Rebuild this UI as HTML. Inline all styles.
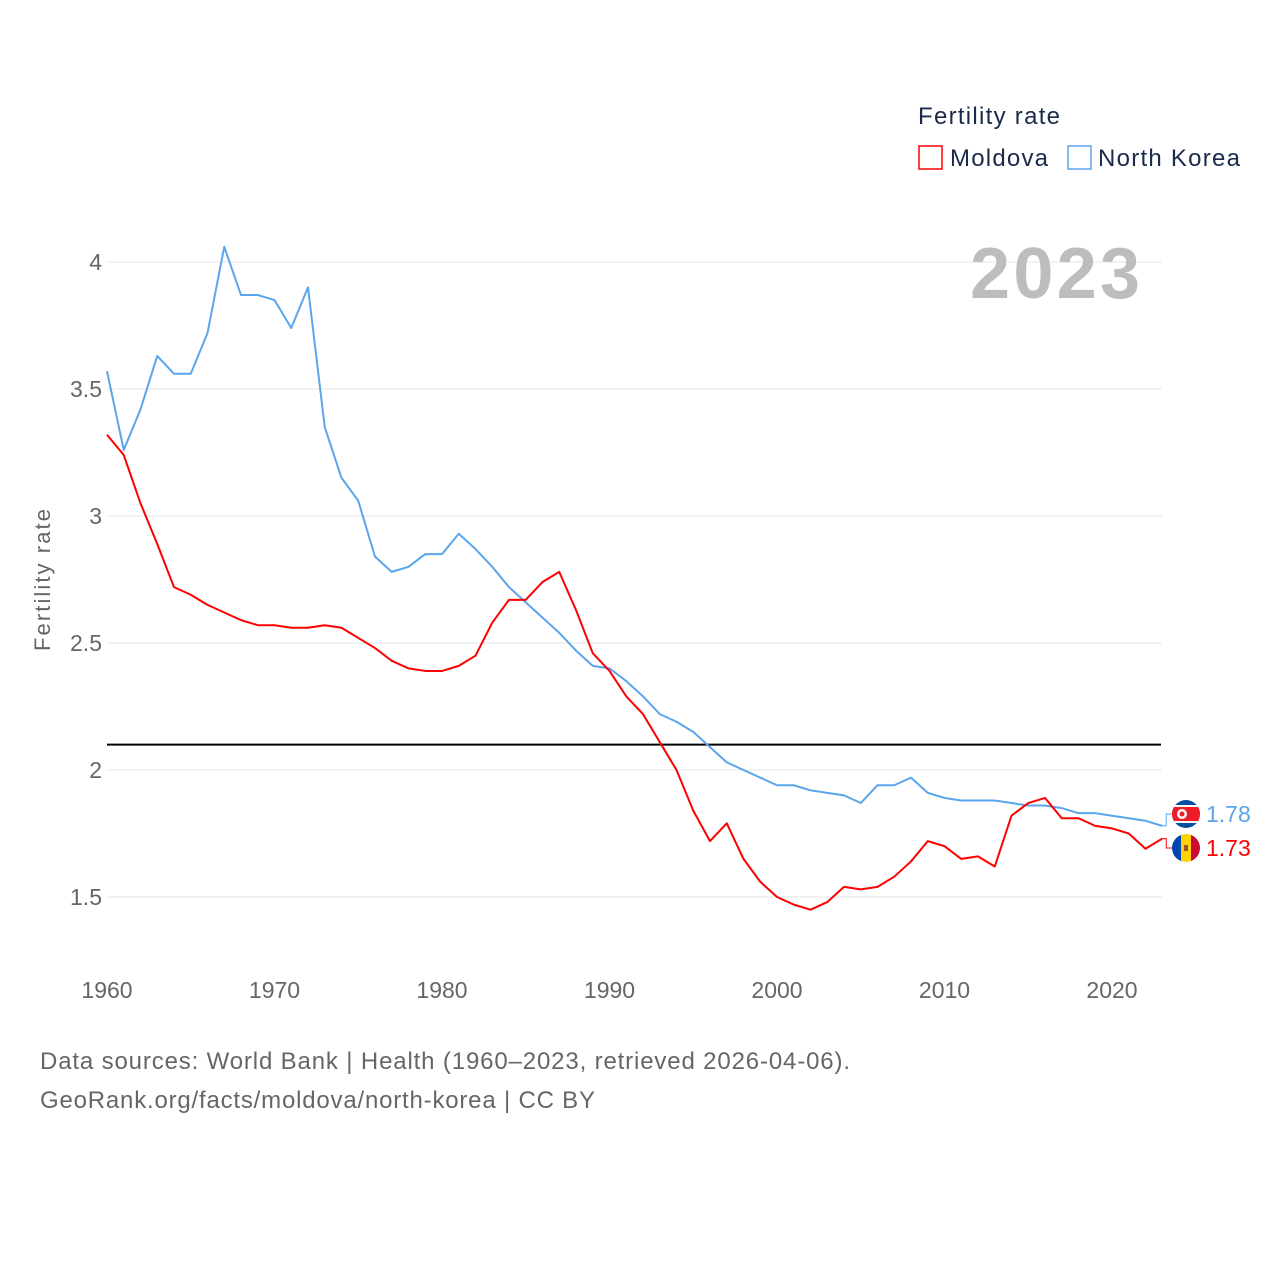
<!DOCTYPE html>
<html><head><meta charset="utf-8">
<style>
html,body{margin:0;padding:0;background:#fff;}
svg{display:block;font-family:"Liberation Sans",sans-serif;}
</style></head>
<body>
<svg id="chart" width="1280" height="1280" viewBox="0 0 1280 1280">
  <g id="grid"></g>
  <g id="yticks"></g>
  <g id="xticks"></g>
  <text x="50" y="580" transform="rotate(-90 50 580)" text-anchor="middle" font-size="22" fill="#666" textLength="142">Fertility rate</text>
  <text x="970" y="298" font-size="72" font-weight="bold" fill="#bdbdbd" textLength="170">2023</text>
  <g id="series"></g>
  <g>
    <text x="918" y="124" font-size="24" fill="#1a2a4a" textLength="142">Fertility rate</text>
    <g>
      <rect x="919" y="146" width="23" height="23" fill="none" stroke="#ff0000" stroke-width="1.5"/>
      <text x="950" y="166" font-size="24" fill="#1a2a4a" textLength="98">Moldova</text>
    </g>
    <g>
      <rect x="1068" y="146" width="23" height="23" fill="none" stroke="#5aa5ec" stroke-width="1.5"/>
      <text x="1098" y="166" font-size="24" fill="#1a2a4a" textLength="142">North Korea</text>
    </g>
  </g>
  <g id="endlabels"></g>
  <text x="40" y="1069" font-size="24" fill="#666" textLength="810">Data sources: World Bank | Health (1960–2023, retrieved 2026-04-06).</text>
  <text x="40" y="1108" font-size="24" fill="#666" textLength="555">GeoRank.org/facts/moldova/north-korea | CC BY</text>
</svg>
<script>
const years = [];
for (let y = 1960; y <= 2023; y++) years.push(y);
const northKorea = [3.57,3.26,3.42,3.63,3.56,3.56,3.72,4.06,3.87,3.87,3.85,3.74,3.90,3.35,3.15,3.06,2.84,2.78,2.80,2.85,2.85,2.93,2.87,2.80,2.72,2.66,2.60,2.54,2.47,2.41,2.40,2.35,2.29,2.22,2.19,2.15,2.09,2.03,2.00,1.97,1.94,1.94,1.92,1.91,1.90,1.87,1.94,1.94,1.97,1.91,1.89,1.88,1.88,1.88,1.87,1.86,1.86,1.85,1.83,1.83,1.82,1.81,1.80,1.78];
const moldova = [3.32,3.24,3.05,2.89,2.72,2.69,2.65,2.62,2.59,2.57,2.57,2.56,2.56,2.57,2.56,2.52,2.48,2.43,2.40,2.39,2.39,2.41,2.45,2.58,2.67,2.67,2.74,2.78,2.63,2.46,2.39,2.29,2.22,2.11,2.00,1.84,1.72,1.79,1.65,1.56,1.50,1.47,1.45,1.48,1.54,1.53,1.54,1.58,1.64,1.72,1.70,1.65,1.66,1.62,1.82,1.87,1.89,1.81,1.81,1.78,1.77,1.75,1.69,1.73];
const yTicks = [1.5,2,2.5,3,3.5,4];
const yTickLabels = ["1.5","2","2.5","3","3.5","4"];
const xTicks = [1960,1970,1980,1990,2000,2010,2020];
const replacement = 2.1;

const NS = "http://www.w3.org/2000/svg";
const X = y => 107 + (y - 1960) * (1112 - 107) / 60;
const Y = v => 770 - (v - 2) * 254;
function mk(tag, attrs, parent){const e=document.createElementNS(NS,tag);for(const k in attrs)e.setAttribute(k,attrs[k]);parent.appendChild(e);return e;}

const grid = document.getElementById('grid'), yt = document.getElementById('yticks'), xt = document.getElementById('xticks');
yTicks.forEach((v,i)=>{
  const l = mk('line',{x1:107,x2:1162,y1:Y(v),y2:Y(v),stroke:'#e6e6e6','stroke-width':1},grid);
  
  
  const t = mk('text',{x:102,y:Y(v)+8,'text-anchor':'end','font-size':23,fill:'#666'},yt);
  t.textContent = yTickLabels[i];
  
  
});
xTicks.forEach(y=>{
  const t = mk('text',{x:X(y),y:998,'text-anchor':'middle','font-size':23,fill:'#666'},xt);
  t.textContent = y;
  
  
});
const s = document.getElementById('series');
const ref = mk('line',{x1:107,x2:1161,y1:Y(replacement),y2:Y(replacement),stroke:'#000','stroke-width':2},s);


function line(vals,color,name){
  const p = mk('polyline',{points:vals.map((v,i)=>X(years[i])+','+Y(v)).join(' '),fill:'none',stroke:color,'stroke-width':2,'stroke-linejoin':'round'},s);
  
  
}
line(northKorea,'#5aa5ec','line-north-korea');
line(moldova,'#ff0000','line-moldova');

const el = document.getElementById('endlabels');
function endLabel(val,color,name,cy,flag){
  const lx = X(2023);
  const c = mk('polyline',{points:`${lx},${Y(val)} ${lx+4},${Y(val)} ${lx+4},${cy} ${lx+12},${cy}`,fill:'none',stroke:color,'stroke-width':1},el);
  
  
  const g = mk('g',{},el);
  
  
  flag(g,1186,cy);
  const t = mk('text',{x:1206,y:cy+8,'font-size':23,fill:color},el);
  t.textContent = val.toFixed(2);
  
  
}
endLabel(northKorea[63],'#5aa5ec','north-korea',814,(g,cx,cy)=>{
  mk('clipPath',{id:'cnk'},g);
  mk('circle',{cx:cx,cy:cy,r:14},g.querySelector('#cnk'));
  const h=mk('g',{'clip-path':'url(#cnk)'},g);
  mk('rect',{x:cx-15,y:cy-15,width:30,height:30,fill:'#024fa2'},h);
  mk('rect',{x:cx-15,y:cy-9,width:30,height:18,fill:'#fff'},h);
  mk('rect',{x:cx-15,y:cy-7,width:30,height:14,fill:'#ed1c27'},h);
  mk('circle',{cx:cx-4,cy:cy,r:5,fill:'#fff'},h);
  mk('circle',{cx:cx-4,cy:cy,r:2.5,fill:'#ed1c27'},h);
});
endLabel(moldova[63],'#ff0000','moldova',848,(g,cx,cy)=>{
  mk('clipPath',{id:'cmd'},g);
  mk('circle',{cx:cx,cy:cy,r:14},g.querySelector('#cmd'));
  const h=mk('g',{'clip-path':'url(#cmd)'},g);
  mk('rect',{x:cx-15,y:cy-15,width:10,height:30,fill:'#0046ae'},h);
  mk('rect',{x:cx-5,y:cy-15,width:10,height:30,fill:'#ffd200'},h);
  mk('rect',{x:cx+5,y:cy-15,width:10,height:30,fill:'#cc092f'},h);
  mk('rect',{x:cx-2,y:cy-3,width:4,height:6,fill:'#a0522d'},h);
});
</script>
</body></html>
